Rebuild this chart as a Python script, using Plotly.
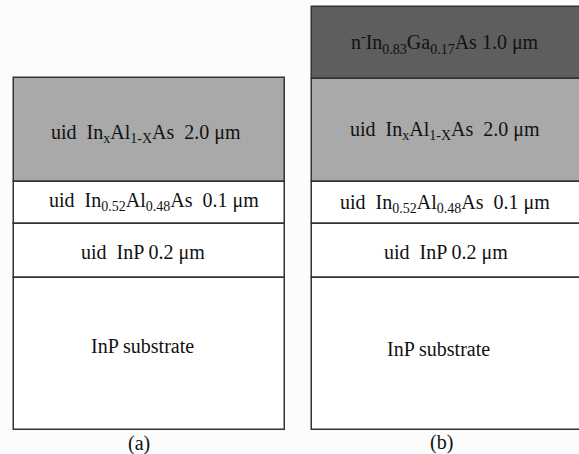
import plotly.graph_objects as go

# Layer stacks (top -> bottom), drawn on a pixel-like y scale
panel_a_labels = [
    "uid  In<sub>x</sub>Al<sub>1-X</sub>As  2.0 μm",
    "uid  In<sub>0.52</sub>Al<sub>0.48</sub>As  0.1 μm",
    "uid  InP 0.2 μm",
    "InP substrate",
]
panel_a_edges = [78, 182, 224, 278, 430]
panel_a_colors = ["#a9a9a9", "#ffffff", "#ffffff", "#ffffff"]
panel_a_text_x = [146, 154, 143, 142]
panel_a_text_y = [133, 201, 252, 346]

panel_b_labels = [
    "n<sup>-</sup>In<sub>0.83</sub>Ga<sub>0.17</sub>As 1.0 μm",
    "uid  In<sub>x</sub>Al<sub>1-X</sub>As  2.0 μm",
    "uid  In<sub>0.52</sub>Al<sub>0.48</sub>As  0.1 μm",
    "uid  InP 0.2 μm",
    "InP substrate",
]
panel_b_edges = [7, 79, 182, 224, 278, 430]
panel_b_colors = ["#5e5e5e", "#a9a9a9", "#ffffff", "#ffffff", "#ffffff"]
panel_b_text_x = [445, 445, 445, 446, 438]
panel_b_text_y = [43, 130, 203, 252, 349]

panel_x = [(14, 285), (312, 582)]
captions = ["(a)", "(b)"]
caption_x = [139, 441]
caption_y = [443, 442]

FONT = "Liberation Serif"

fig = go.Figure()

panels = [
    (panel_a_labels, panel_a_edges, panel_a_colors, panel_a_text_x, panel_a_text_y),
    (panel_b_labels, panel_b_edges, panel_b_colors, panel_b_text_x, panel_b_text_y),
]

annotations = []
for (labels, edges, colors, tx, ty), (x0, x1) in zip(panels, panel_x):
    for i, lab in enumerate(labels):
        top, bot = edges[i], edges[i + 1]
        fig.add_trace(go.Bar(
            x=[(x0 + x1) / 2], y=[bot - top], base=[top], width=[x1 - x0],
            marker=dict(color=colors[i], line=dict(color="#333333", width=1.5)),
            textposition="none",
            showlegend=False, hoverinfo="skip",
        ))
        annotations.append(dict(
            x=tx[i], y=ty[i], xref="x", yref="y", text=lab, showarrow=False,
            font=dict(family=FONT, size=20, color="#111111"),
            xanchor="center", yanchor="middle",
        ))

for cap, cx, cy in zip(captions, caption_x, caption_y):
    annotations.append(dict(
        x=cx, y=cy, xref="x", yref="y", text=cap, showarrow=False,
        font=dict(family=FONT, size=20, color="#111111"),
        xanchor="center", yanchor="middle",
    ))

fig.update_layout(
    width=579, height=454,
    margin=dict(l=0, r=0, t=0, b=0),
    font=dict(family=FONT),
    paper_bgcolor="#fcfcfc", plot_bgcolor="#fcfcfc",
    barmode="overlay", bargap=0,
    xaxis=dict(range=[0, 579], visible=False, fixedrange=True),
    yaxis=dict(range=[454, 0], visible=False, fixedrange=True),
    annotations=annotations,
)

fig.write_html("out.html")
